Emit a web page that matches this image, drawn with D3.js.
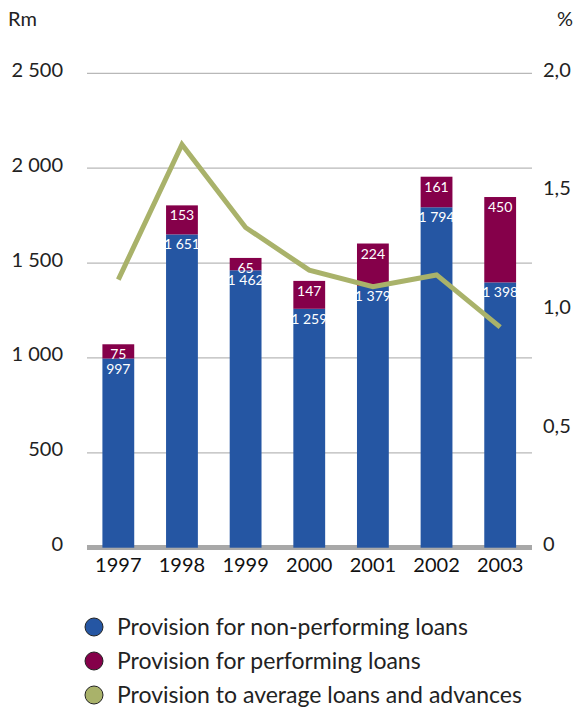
<!DOCTYPE html>
<html>
<head>
<meta charset="utf-8">
<script src="https://cdn.jsdelivr.net/npm/d3@7"></script>
<style>
  html, body { margin: 0; padding: 0; background: #fff; }
  svg { display: block; font-family: Lato, "Open Sans", sans-serif; }
</style>
</head>
<body>
<svg id="chart" width="574" height="717"></svg>
<script>
// Loan loss provisions, Rm (bars) and provision ratio, % (line)
const years = ["1997", "1998", "1999", "2000", "2001", "2002", "2003"];
const nonPerforming = [997, 1651, 1462, 1259, 1379, 1794, 1398];
const performing = [75, 153, 65, 147, 224, 161, 450];
const ratio = [1.13, 1.70, 1.35, 1.17, 1.10, 1.15, 0.93];
const leftTicks = [0, 500, 1000, 1500, 2000, 2500];
const rightTicks = [0, 0.5, 1.0, 1.5, 2.0];
const legendItems = [
  { label: "Provision for non-performing loans", color: "#2556a3" },
  { label: "Provision for performing loans", color: "#85004a" },
  { label: "Provision to average loans and advances", color: "#a9b26a" }
];

const colBlue = "#2556a3", colMaroon = "#85004a", colOlive = "#a9b26a";
const svg = d3.select("#chart");

const x0 = 87, x1 = 532;
const y = d3.scaleLinear().domain([0, 2500]).range([547.7, 73.3]);
const yR = d3.scaleLinear().domain([0, 2.0]).range([547.7, 73.3]);
const x = d3.scaleBand().domain(years).range([86.5, 532]).paddingInner(0.5).paddingOuter(0.25);

const fmt = v => d3.format(",")(v).replace(/,/g, " ");
const fmtR = v => d3.format(".1f")(v).replace(".", ",");

// gridlines
svg.append("g").selectAll("line").data(leftTicks.filter(d => d > 0)).join("line")
  .attr("x1", x0).attr("x2", x1)
  .attr("y1", d => y(d)).attr("y2", d => y(d))
  .attr("stroke", "#b8b8b8").attr("stroke-width", 1.3);

// baseline band
svg.append("rect").attr("x", x0).attr("width", x1 - x0)
  .attr("y", y(0) - 2.7).attr("height", 5).attr("fill", "#a8a8a8");

// left axis labels
svg.append("g").selectAll("text").data(leftTicks).join("text")
  .attr("x", 63).attr("y", d => y(d) + 3.5)
  .attr("text-anchor", "end").attr("font-size", 20).attr("fill", "#222")
  .text(d => fmt(d));

// right axis labels
svg.append("g").selectAll("text").data(rightTicks).join("text")
  .attr("x", 543).attr("y", d => yR(d) + 3.5)
  .attr("text-anchor", "start").attr("font-size", 20).attr("fill", "#222")
  .text(d => d === 0 ? "0" : fmtR(d));

svg.append("text").attr("x", 8).attr("y", 26).attr("font-size", 20).attr("fill", "#222").text("Rm");
svg.append("text").attr("x", 573).attr("y", 26).attr("text-anchor", "end").attr("font-size", 20).attr("fill", "#222").text("%");

// stacked bars
const bars = svg.append("g").selectAll("g").data(years).join("g");
bars.append("rect")
  .attr("x", d => x(d)).attr("width", x.bandwidth())
  .attr("y", (d, i) => y(nonPerforming[i]))
  .attr("height", (d, i) => y(0) - y(nonPerforming[i]))
  .attr("fill", colBlue);
bars.append("rect")
  .attr("x", d => x(d)).attr("width", x.bandwidth())
  .attr("y", (d, i) => y(nonPerforming[i] + performing[i]))
  .attr("height", (d, i) => y(nonPerforming[i]) - y(nonPerforming[i] + performing[i]))
  .attr("fill", colMaroon);
bars.append("text")
  .attr("x", d => x(d) + x.bandwidth() / 2)
  .attr("y", (d, i) => y(nonPerforming[i]) + 15)
  .attr("text-anchor", "middle").attr("font-size", 14).attr("fill", "#fff")
  .text((d, i) => fmt(nonPerforming[i]));
bars.append("text")
  .attr("x", d => x(d) + x.bandwidth() / 2)
  .attr("y", (d, i) => y(nonPerforming[i] + performing[i]) + 15)
  .attr("text-anchor", "middle").attr("font-size", 14).attr("fill", "#fff")
  .text((d, i) => fmt(performing[i]));

// year labels
svg.append("g").selectAll("text").data(years).join("text")
  .attr("x", d => x(d) + x.bandwidth() / 2).attr("y", 572)
  .attr("text-anchor", "middle").attr("font-size", 20).attr("fill", "#111")
  .text(d => d);

// ratio line
const line = d3.line()
  .x((d, i) => x(years[i]) + x.bandwidth() / 2)
  .y(d => yR(d));
svg.append("path").datum(ratio)
  .attr("d", line).attr("fill", "none")
  .attr("stroke", colOlive).attr("stroke-width", 5).attr("stroke-linejoin", "miter");

// legend
const leg = svg.append("g").selectAll("g").data(legendItems).join("g")
  .attr("transform", (d, i) => `translate(0, ${627 + i * 34})`);
leg.append("circle").attr("cx", 94).attr("cy", 0).attr("r", 9)
  .attr("fill", d => d.color).attr("stroke", "#222").attr("stroke-width", 1);
leg.append("text").attr("x", 117).attr("y", 8)
  .attr("font-size", 23).attr("fill", "#222").text(d => d.label);
</script>
</body>
</html>
